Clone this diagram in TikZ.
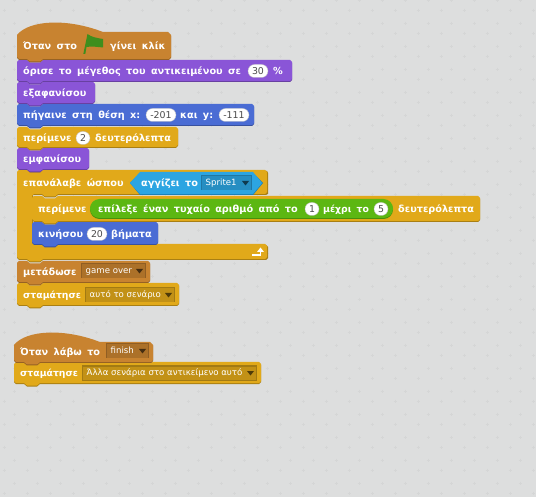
\documentclass[tikz,border=0pt]{standalone}
\usepackage{fontspec}
\setmainfont{DejaVu Sans}
\newfontfamily\blockfont[WordSpace=1.6]{DejaVu Sans Bold}
\newfontfamily\valfont{DejaVu Sans}
\definecolor{bgc}{HTML}{DDDEDE}
\definecolor{plusc}{HTML}{D5D6D6}
\definecolor{ctlc}{HTML}{E1A91A}
\definecolor{evtc}{HTML}{C88330}
\definecolor{lookc}{HTML}{8A55D7}
\definecolor{motc}{HTML}{4A6CD4}
\definecolor{opc}{HTML}{5CB712}
\definecolor{opd}{HTML}{47900C}
\definecolor{senc}{HTML}{2CA5E2}
\definecolor{send}{HTML}{1B82B8}
\definecolor{flagc}{HTML}{3F8E1D}
\tikzset{
  lbl/.style={text=white,anchor=base west,inner sep=0pt,font=\blockfont\fontsize{9.7}{10}\selectfont},
  val/.style={text=black!70,anchor=base,inner sep=0pt,font=\valfont\fontsize{9.4}{10}\selectfont},
  droplbl/.style={anchor=base west,inner sep=0pt,text=white,font=\valfont\fontsize{8.6}{10}\selectfont},
  ovalbox/.style={fill=white,draw=black!25,line width=.3pt,rounded corners=6.5pt},
  plusmark/.style={plusc,line width=.8pt},
}
\newcommand{\blockshape}[4]{(#1+2,#3) -- (#1+10,#3) -- (#1+13,#3+2.5) -- (#1+23,#3+2.5) -- (#1+26,#3) -- (#2-2,#3) -- (#2,#3+2) -- (#2,#4-2) -- (#2-2,#4) -- (#1+26,#4) -- (#1+23,#4+2.5) -- (#1+13,#4+2.5) -- (#1+10,#4) -- (#1+2,#4) -- (#1,#4-2) -- (#1,#3+2) -- cycle}
\newcommand{\hatshape}[4]{(#1,#3+3) .. controls (#1+12,#3-12) and (#1+50,#3-14) .. (#1+86,#3) -- (#2-3,#3) -- (#2,#3+3) -- (#2,#4-2) -- (#2-2,#4) -- (#1+26,#4) -- (#1+23,#4+2.5) -- (#1+13,#4+2.5) -- (#1+10,#4) -- (#1+2,#4) -- (#1,#4-2) -- cycle}
\newcommand{\blk}[5]{\fill[#5!75!black] \blockshape{#1}{#2}{#3+1}{#4+1};\fill[#5] \blockshape{#1}{#2}{#3}{#4};}
\newcommand{\hatblk}[5]{\fill[#5!75!black] \hatshape{#1}{#2}{#3+1}{#4+1};\fill[#5] \hatshape{#1}{#2}{#3}{#4};}
\newcommand{\txt}[3]{\node[lbl] at (#1,#2+3.5) {#3};}
\newcommand{\ovl}[4]{\draw[ovalbox] (#1,#3-6.5) rectangle (#2,#3+6.5);\node[val] at ({(#1+#2)/2},#3+3.5) {#4};}
\newcommand{\drop}[5]{\fill[#5!72!black] (#1,#3-7.5) rectangle (#2,#3+7.5);\fill[#5!86!black] (#1+1,#3-6.5) rectangle (#2-1,#3+7);\node[droplbl] at (#1+4.5,#3+3) {#4};\fill[black!65!#5] (#2-10,#3-2) -- (#2-3,#3-2) -- (#2-6.5,#3+2.5) -- cycle;}
\newcommand{\narrow}{\fontsize{9.3}{10}\selectfont}
\begin{document}
\begin{tikzpicture}[x=1pt,y=-1pt]
\useasboundingbox (0,0) rectangle (536,497);
\fill[bgc] (0,0) rectangle (536,497);
\foreach \i in {0,...,23}{\foreach \j in {0,...,21}{
  \draw[plusmark] ({4.3+23*\i-1.5},{10.3+23*\j}) -- ++(3,0) ({4.3+23*\i},{10.3+23*\j-1.5}) -- ++(0,3);
  \draw[plusmark] ({14.3+23*\i-1.5},{.3+23*\j}) -- ++(3,0) ({14.3+23*\i},{.3+23*\j-1.5}) -- ++(0,3);
}}
\blk{17}{179}{283}{305}{ctlc}
\blk{17}{150}{261}{282}{evtc}
\fill[ctlc!75!black] (19,171) -- (267,171) -- (268,173) -- (268,194) -- (266,195) -- (58,195) -- (55,197.5) -- (45,197.5) -- (42,195) -- (33,195) -- (33,245) -- (266,245) -- (268,247) -- (268,258) -- (266,260) -- (43,260) -- (40,262.5) -- (30,262.5) -- (27,260) -- (19,260) -- (17,258) -- (17,173) -- cycle;
\fill[ctlc] (19,170) -- (27,170) -- (30,172.5) -- (40,172.5) -- (43,170) -- (265,170) -- (267,172) -- (267,192) -- (265,194) -- (58,194) -- (55,196.5) -- (45,196.5) -- (42,194) -- (34,194) -- (32,196) -- (32,242) -- (34,244) -- (265,244) -- (267,246) -- (267,257) -- (265,259) -- (43,259) -- (40,261.5) -- (30,261.5) -- (27,259) -- (19,259) -- (17,257) -- (17,172) -- cycle;
\blk{32}{158}{222}{244}{motc}
\blk{32}{480}{196}{221}{ctlc}
\blk{17}{89}{148}{169}{lookc}
\blk{17}{178}{127}{147}{ctlc}
\blk{17}{254}{104}{125}{motc}
\blk{17}{95}{82}{103}{lookc}
\blk{17}{292}{60}{81}{lookc}
\hatblk{17}{171}{32}{59}{evtc}
\txt{23}{46}{Όταν στο}
\fill[flagc] (83.3,54) -- (87.5,34) .. controls (91,37) and (97,38) .. (103,39) -- (103,47.5) .. controls (97,47) and (92,46) .. (86.5,47) -- (85.3,54) -- cycle;
\txt{110}{46}{γίνει κλίκ}
\txt{23}{71}{όρισε το μέγεθος του αντικειμένου σε}
\ovl{248}{268}{71}{30}
\txt{273}{71}{\%}
\txt{23}{93}{εξαφανίσου}
\txt{23}{115}{πήγαινε στη θέση x:}
\ovl{146}{176}{115}{-201}
\txt{180}{115}{και y:}
\ovl{219}{249}{115}{-111}
\txt{23}{138}{περίμενε}
\ovl{76}{90}{138}{2}
\txt{95}{138}{δευτερόλεπτα}
\txt{23}{159}{εμφανίσου}
\txt{23}{183}{επανάλαβε ώσπου}
\fill[send] (130,183) -- (140,173) -- (253,173) -- (263,183) -- (253,195) -- (140,195) -- cycle;
\fill[senc] (130,183) -- (140,172) -- (253,172) -- (262,183) -- (253,194) -- (140,194) -- cycle;
\txt{141}{183}{αγγίζει το}
\drop{201}{252}{183}{Sprite1}{senc}
\txt{38}{209}{περίμενε}
\fill[opd,rounded corners=9.5pt] (90,200) rectangle (393,219);
\fill[opc,rounded corners=9.5pt] (90,199) rectangle (393,218);
\txt{98}{209}{επίλεξε έναν τυχαίο αριθμό από το}
\ovl{305}{319}{209}{1}
\txt{323}{209}{\narrow μέχρι το}
\ovl{374}{388}{209}{5}
\txt{398}{209}{δευτερόλεπτα}
\txt{38}{234}{κινήσου}
\ovl{87}{107}{234}{20}
\txt{111}{234}{βήματα}
\draw[white,line width=1.3pt] (252,255) -- (260.5,255) -- (260.5,251);
\fill[white] (257,252) -- (260.5,247.5) -- (264,252) -- cycle;
\txt{23}{272}{μετάδωσε}
\drop{81}{146}{271}{game over}{evtc}
\txt{23}{295}{\narrow σταμάτησε}
\drop{85}{175}{295}{αυτό το σενάριο}{ctlc}
\blk{14}{261}{362}{383}{ctlc}
\hatblk{14}{153}{342}{362}{evtc}
\txt{20}{352}{Όταν λάβω το}
\drop{106}{149}{351}{finish}{evtc}
\txt{20}{373}{\narrow σταμάτησε}
\drop{82}{257}{373}{Άλλα σενάρια στο αντικείμενο αυτό}{ctlc}
\end{tikzpicture}
\end{document}
